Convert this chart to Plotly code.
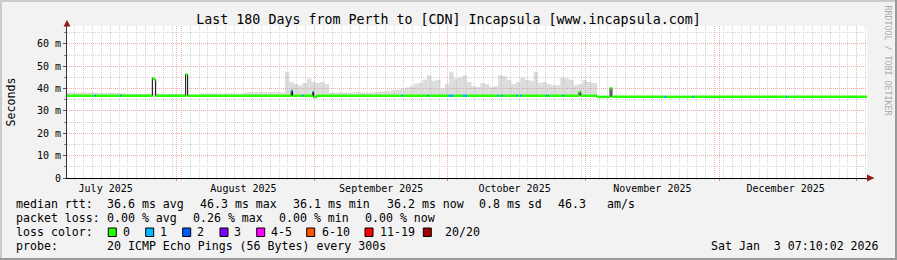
import pandas as pd
import plotly.graph_objects as go

# ---------------- data ----------------
END = pd.Timestamp("2026-01-03 07:10:02")
SPAN_DAYS = 180
START = END - pd.Timedelta(days=SPAN_DAYS)

TITLE = "Last 180 Days from Perth to [CDN] Incapsula [www.incapsula.com]"
Y_LABEL = "Seconds"
Y_TICKS = [0, 10, 20, 30, 40, 50, 60]
Y_TICK_TEXT = ["0", "10 m", "20 m", "30 m", "40 m", "50 m", "60 m"]
Y_MAX = 68

MONTH_STARTS = ["2025-08-01", "2025-09-01", "2025-10-01", "2025-11-01", "2025-12-01", "2026-01-01"]
MONTH_LABEL_AT = ["2025-07-16", "2025-08-16", "2025-09-16", "2025-10-16", "2025-11-16", "2025-12-16"]
MONTH_LABELS = ["July 2025", "August 2025", "September 2025", "October 2025", "November 2025", "December 2025"]

# smoke (max rtt) in ms, step values starting at the given day offset
SMOKE_DAY = [0, 7, 13, 20, 27, 30, 40,
             49, 50, 51, 52, 53, 54, 55, 56, 57, 58,
             59, 60, 61, 62, 63, 64, 65, 66, 67, 68, 69, 70, 71, 72,
             73, 74, 75, 76, 77, 78, 79, 80, 81, 82, 83, 84, 85, 86, 87, 88, 89,
             90, 91, 92, 93, 94, 95, 96, 97, 98, 99, 100, 101, 102, 103, 104, 105,
             106, 107, 108, 109, 110, 111, 112, 113, 114, 115, 116, 117, 118, 119.3]
SMOKE_MAX = [38.2, 38.0, 37.7, 37.7, 37.2, 37.8, 38.4,
             47.5, 43.0, 42.0, 41.5, 42.5, 44.5, 43.0, 42.5, 43.0, 42.0,
             38.3, 38.0, 38.4, 38.2, 38.1, 38.3, 38.5, 38.2, 38.0, 38.3, 38.4, 38.6, 38.8, 39.0,
             39.3, 39.5, 40.0, 40.5, 41.0, 42.2, 42.5, 44.0, 46.0, 43.5, 44.0, 40.0, 42.0, 47.5, 44.5, 45.0, 46.0,
             43.0, 41.0, 40.7, 42.5, 42.0, 40.7, 41.0, 46.0, 45.5, 44.0, 42.0, 43.0, 45.0, 44.0, 43.5, 47.5,
             42.5, 43.0, 42.0, 41.5, 41.5, 45.0, 44.5, 44.0, 41.5, 42.0, 43.7, 43.0, 42.5, 42.5]
SMOKE_FLOOR = 36.4

# median rtt in ms, step values starting at the given day offset
MEDIAN_DAY = [0, 19.2, 19.6, 19.95, 26.7, 27.15, 50.45, 50.75, 55.3, 55.5, 56.2,
              115.2, 115.6, 119.2, 122.2, 122.6]
MEDIAN_MS = [36.8, 44.6, 44.0, 36.8, 46.3, 36.8, 39.0, 36.8, 38.5, 36.2, 36.8,
             38.5, 36.8, 36.3, 40.2, 36.3]

# periods with 1/20 packet loss (day offsets)
LOSS1_FROM = [6.2, 12.0, 50.45, 53.0, 55.3, 75.2, 81.1, 85.9, 89.1, 96.9, 97.7, 101.1,
              102.0, 107.9, 111.4, 134.3, 140.7, 161.8]
LOSS1_TO = [6.5, 12.3, 50.75, 53.3, 55.5, 75.5, 81.4, 86.9, 90.0, 97.2, 98.0, 101.4,
            102.3, 108.3, 111.7, 134.8, 141.0, 162.1]

LOSS_LABELS = ["0", "1", "2", "3", "4-5", "6-10", "11-19", "20/20"]
LOSS_COLORS = ["#26ff00", "#00b8ff", "#0059ff", "#7e00ff", "#ff00ff", "#ff5500", "#ff0000", "#a10000"]

RTT_TEXT = ["median rtt:", "36.6 ms avg", "46.3 ms max", "36.1 ms min", "36.2 ms now",
            "0.8 ms sd", "46.3", "am/s"]
LOSS_TEXT = ["packet loss:", "0.00 % avg", "0.26 % max", "0.00 % min", "0.00 % now"]
PROBE_TEXT = ["probe:", "20 ICMP Echo Pings (56 Bytes) every 300s"]
STAMP = "Sat Jan  3 07:10:02 2026"
WATERMARK = "RRDTOOL / TOBI OETIKER"

# ---------------- layout constants ----------------
FIG_W, FIG_H = 897, 260
L, T, W, H = 67, 26, 800, 152
MONO = "DejaVu Sans Mono"
LEG_SIZE = 11.6
RTT_X = [16, 107.3, 200, 293.3, 386.7, 479.3, 558.3, 606.7]
LOSS_X = [16, 107.3, 193.3, 279.3, 365.3]
SWATCH_X = [108.3, 145.7, 182.7, 220, 256.7, 306.7, 365, 423.3]
SWATCH_LABEL_X = [123.3, 160, 196.7, 234.3, 271, 321.7, 380, 445]
ROW_Y = [204, 218, 232, 246]
TEXT_DX = -2


def pxx(x):
    return (x - L) / W


def pxy(y):
    return (T + H - y) / H


def t(day):
    return START + pd.to_timedelta(day, unit="D")


def median_at(day):
    v = MEDIAN_MS[0]
    for d, m in zip(MEDIAN_DAY, MEDIAN_MS):
        if d <= day:
            v = m
    return v


def loss_at(day):
    for a, b in zip(LOSS1_FROM, LOSS1_TO):
        if a <= day < b:
            return 1
    return 0


fig = go.Figure()

# smoke
sx = [t(d) for d in SMOKE_DAY]
fig.add_trace(go.Scatter(x=sx, y=[SMOKE_FLOOR] * len(sx), mode="lines", line=dict(width=0),
                         hoverinfo="skip", showlegend=False))
fig.add_trace(go.Scatter(x=sx, y=SMOKE_MAX, mode="lines", line=dict(width=0, shape="hv"),
                         fill="tonexty", fillcolor="rgba(165,165,165,0.38)",
                         hoverinfo="skip", showlegend=False))

# median: black step line
mx = [t(d) for d in MEDIAN_DAY] + [t(SPAN_DAYS)]
my = MEDIAN_MS + [MEDIAN_MS[-1]]
fig.add_trace(go.Scatter(x=mx, y=my, mode="lines", line=dict(color="#000000", width=1, shape="hv"),
                         xaxis="x2", hoverinfo="skip", showlegend=False))

# median coloured by loss (horizontal pieces only)
bounds = sorted(set(MEDIAN_DAY + LOSS1_FROM + LOSS1_TO + [0, SPAN_DAYS]))
segs = {0: ([], []), 1: ([], [])}
for a, b in zip(bounds[:-1], bounds[1:]):
    v = median_at(a)
    k = loss_at(a)
    segs[k][0].extend([t(a), t(b), None])
    segs[k][1].extend([v, v, None])
for k in (0, 1):
    fig.add_trace(go.Scatter(x=segs[k][0], y=segs[k][1], mode="lines",
                             line=dict(color=LOSS_COLORS[k], width=2.5), xaxis="x2",
                             connectgaps=False, hoverinfo="skip", showlegend=False))

GRID = "#d4d4d4"
MGRID = "#f2acac"
DOT = "1px,1px"
xrange = [START, END]

fig.update_layout(
    width=FIG_W, height=FIG_H,
    margin=dict(l=L, r=FIG_W - L - W, t=T, b=FIG_H - T - H),
    paper_bgcolor="#f2f2f2", plot_bgcolor="#ffffff",
    font=dict(family=MONO, color="#000000", size=10),
    showlegend=False,
    title=dict(text=TITLE, x=0.5, xref="container", xanchor="center", y=1 - 19 / FIG_H, yref="container",
               yanchor="middle", font=dict(family=MONO, size=13.3, color="#000000")),
    xaxis=dict(type="date", range=xrange, tickvals=MONTH_STARTS, showticklabels=False,
               showgrid=True, gridcolor=MGRID, griddash=DOT, gridwidth=1,
               ticks="outside", ticklen=2, tickcolor="#e08080",
               showline=True, linecolor="#000000", linewidth=1, zeroline=False,
               minor=dict(dtick=2 * 86400000, tick0="2025-10-01", showgrid=True, gridcolor=GRID,
                          griddash=DOT, ticks="outside", ticklen=1, tickcolor=GRID)),
    xaxis2=dict(type="date", range=xrange, overlaying="x", anchor="y", side="bottom",
                tickvals=MONTH_LABEL_AT, ticktext=MONTH_LABELS, showgrid=False, ticks="",
                ticklabelstandoff=3,
                showline=False, zeroline=False, tickfont=dict(family=MONO, size=10)),
    yaxis=dict(range=[0, Y_MAX], tickvals=Y_TICKS, ticktext=Y_TICK_TEXT,
               showgrid=True, gridcolor=MGRID, griddash=DOT, gridwidth=1,
               ticks="outside", ticklen=3, tickcolor="#555555",
               showline=True, linecolor="#333333", linewidth=1, zeroline=False,
               tickfont=dict(family=MONO, size=10),
               minor=dict(dtick=5, showgrid=True, gridcolor=GRID, griddash=DOT,
                          ticks="outside", ticklen=2, tickcolor="#888888")),
)

ann = []


def text(s, x, y, anchor="left", size=LEG_SIZE, color="#000000", angle=0):
    ann.append(dict(text=s, x=pxx(x + (TEXT_DX if anchor == "left" else 0)), y=pxy(y),
                    xref="paper", yref="paper", xanchor=anchor, yanchor="middle",
                    showarrow=False, textangle=angle,
                    font=dict(family=MONO, size=size, color=color)))


for s, x in zip(RTT_TEXT, RTT_X):
    text(s, x, ROW_Y[0])
for s, x in zip(LOSS_TEXT, LOSS_X):
    text(s, x, ROW_Y[1])
text("loss color:", 16, ROW_Y[2])
for s, x in zip(LOSS_LABELS, SWATCH_LABEL_X):
    text(s, x, ROW_Y[2])
text(PROBE_TEXT[0], 16, ROW_Y[3])
text(PROBE_TEXT[1], 107.3, ROW_Y[3])
text(STAMP, 881, ROW_Y[3], anchor="right")
text(Y_LABEL, 10.5, (T + T + H) / 2, anchor="center", angle=-90)
text(WATERMARK, 887.5, 60, anchor="center", size=8.3, color="#aaaaaa", angle=90)
fig.update_layout(annotations=ann)

shapes = []
for c, x in zip(LOSS_COLORS, SWATCH_X):
    shapes.append(dict(type="rect", xref="paper", yref="paper",
                       x0=pxx(x), x1=pxx(x + 8), y0=pxy(236.5), y1=pxy(228),
                       fillcolor=c, line=dict(color="#000000", width=1)))
ARROW = "#8b1c1c"
shapes.append(dict(type="path", xref="paper", yref="paper", fillcolor=ARROW, line=dict(width=0),
                   path=f"M {pxx(67)},{pxy(20)} L {pxx(63.5)},{pxy(26.5)} L {pxx(70.5)},{pxy(26.5)} Z"))
shapes.append(dict(type="path", xref="paper", yref="paper", fillcolor=ARROW, line=dict(width=0),
                   path=f"M {pxx(874.5)},{pxy(178)} L {pxx(867)},{pxy(174.5)} L {pxx(867)},{pxy(181.5)} Z"))
# frame
shapes.append(dict(type="line", xref="paper", yref="paper", x0=pxx(0), x1=pxx(FIG_W), y0=pxy(1), y1=pxy(1),
                   line=dict(color="#cbcbcb", width=2)))
shapes.append(dict(type="line", xref="paper", yref="paper", x0=pxx(1), x1=pxx(1), y0=pxy(0), y1=pxy(FIG_H),
                   line=dict(color="#cbcbcb", width=2)))
shapes.append(dict(type="line", xref="paper", yref="paper", x0=pxx(0), x1=pxx(FIG_W), y0=pxy(FIG_H - 1),
                   y1=pxy(FIG_H - 1), line=dict(color="#999999", width=2)))
shapes.append(dict(type="line", xref="paper", yref="paper", x0=pxx(FIG_W - 1), x1=pxx(FIG_W - 1),
                   y0=pxy(0), y1=pxy(FIG_H), line=dict(color="#999999", width=2)))
fig.update_layout(shapes=shapes)

fig.write_html("out.html")
